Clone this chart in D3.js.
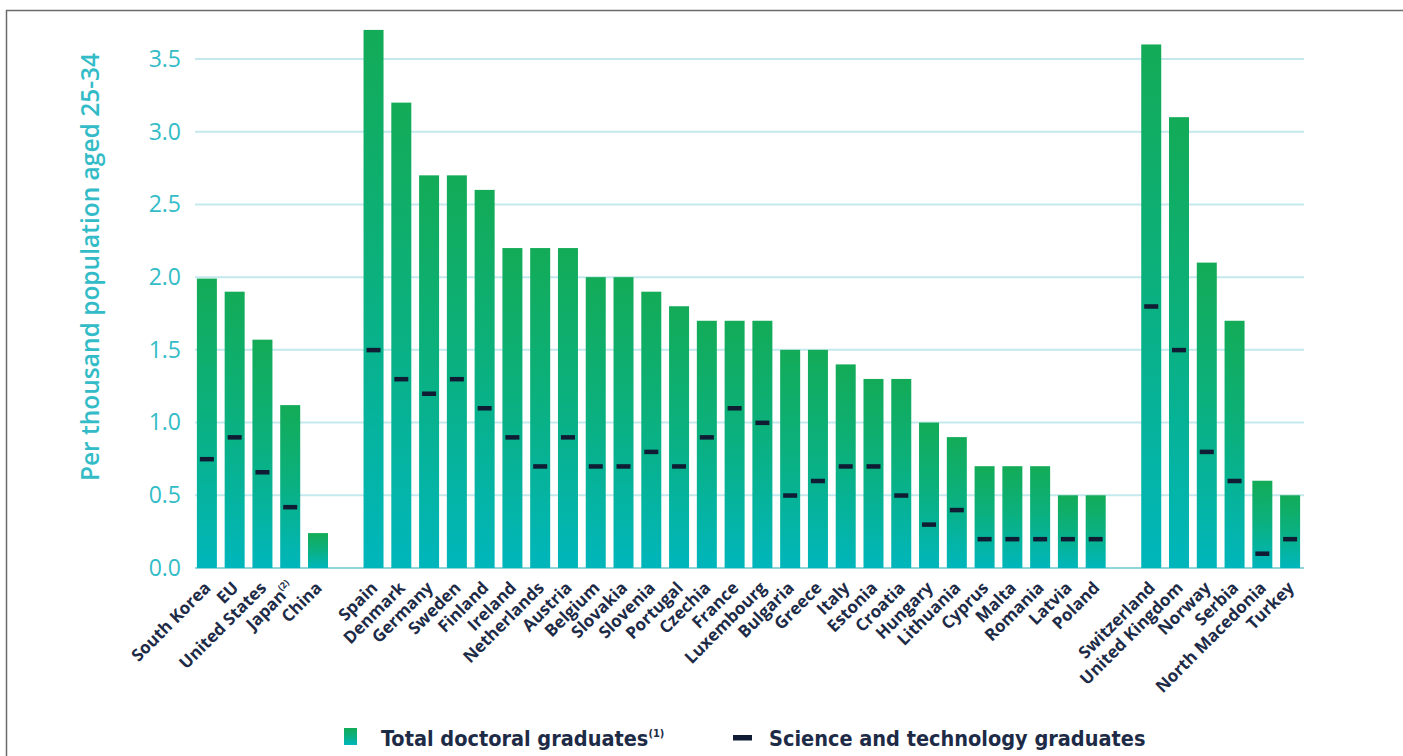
<!DOCTYPE html>
<html><head><meta charset="utf-8">
<script src="https://cdn.jsdelivr.net/npm/d3@7"></script>
<style>
html,body{margin:0;padding:0;background:#fff;}
svg{display:block;}
</style></head>
<body><svg id="chart" width="1403" height="756"></svg>
<script>
// ---- data ----
const categories = ["South Korea","EU","United States","Japan","China","_gap1",
 "Spain","Denmark","Germany","Sweden","Finland","Ireland","Netherlands","Austria","Belgium","Slovakia","Slovenia","Portugal","Czechia","France","Luxembourg","Bulgaria","Greece","Italy","Estonia","Croatia","Hungary","Lithuania","Cyprus","Malta","Romania","Latvia","Poland","_gap2",
 "Switzerland","United Kingdom","Norway","Serbia","North Macedonia","Turkey"];
const totalDoctoral = [1.99,1.9,1.57,1.12,0.24,null,
 3.7,3.2,2.7,2.7,2.6,2.2,2.2,2.2,2.0,2.0,1.9,1.8,1.7,1.7,1.7,1.5,1.5,1.4,1.3,1.3,1.0,0.9,0.7,0.7,0.7,0.5,0.5,null,
 3.6,3.1,2.1,1.7,0.6,0.5];
const sciTech = [0.75,0.9,0.66,0.42,null,null,
 1.5,1.3,1.2,1.3,1.1,0.9,0.7,0.9,0.7,0.7,0.8,0.7,0.9,1.1,1.0,0.5,0.6,0.7,0.7,0.5,0.3,0.4,0.2,0.2,0.2,0.2,0.2,null,
 1.8,1.5,0.8,0.6,0.1,0.2];
const yTicks = [0,0.5,1.0,1.5,2.0,2.5,3.0,3.5];
const superscripts = {"Japan":"(2)"};
const yTitle = "Per thousand population aged 25-34";
const legendLabels = ["Total doctoral graduates","Science and technology graduates"];

// ---- layout ----
const svg = d3.select("#chart");
const x = d3.scaleBand().domain(categories).range([193,1304]).paddingInner(0.28).paddingOuter(0.14);
const y = d3.scaleLinear().domain([0,3.5]).range([568,59]);

// frame
svg.append("path").attr("d","M6.5,760 V10.5 H1410").attr("fill","none").attr("stroke","#6b6b6b").attr("stroke-width",1.5);

const defs = svg.append("defs");
const grad = defs.append("linearGradient").attr("id","barGrad").attr("x1",0).attr("y1",0).attr("x2",0).attr("y2",1);
grad.append("stop").attr("offset","0%").attr("stop-color","#13ab57");
grad.append("stop").attr("offset","45%").attr("stop-color","#0bb07c");
grad.append("stop").attr("offset","100%").attr("stop-color","#00b6bc");

// grid
const teal = "#33bcc7";
svg.append("g").selectAll("line").data(yTicks).join("line")
  .attr("x1",195).attr("x2",1304)
  .attr("y1",d=>y(d)).attr("y2",d=>y(d))
  .attr("stroke",d=>d===0?"#8fd6dc":"#c4e9ed").attr("stroke-width",2);

// y tick labels via axis
const yAxis = svg.append("g").attr("transform","translate(195,0)")
  .call(d3.axisLeft(y).tickValues(yTicks).tickFormat(d3.format(".1f")).tickSize(0).tickPadding(14));
yAxis.select(".domain").remove();
yAxis.selectAll("text").attr("fill",teal).attr("font-family","'Open Sans', sans-serif").attr("font-size",23);

svg.append("text").attr("transform","translate(99,267) rotate(-90)")
  .attr("text-anchor","middle").attr("fill",teal)
  .attr("font-family","'Open Sans', sans-serif").attr("font-weight",600).attr("font-size",24.5)
  .text(yTitle);

const rows = categories.map((c,i)=>({c,t:totalDoctoral[i],s:sciTech[i]}));

// bars
svg.append("g").selectAll("rect").data(rows.filter(d=>d.t!=null)).join("rect")
  .attr("x",d=>x(d.c)).attr("width",x.bandwidth())
  .attr("y",d=>y(d.t)).attr("height",d=>y(0)-y(d.t))
  .attr("fill","url(#barGrad)");

// S&T markers
svg.append("g").selectAll("rect").data(rows.filter(d=>d.s!=null)).join("rect")
  .attr("x",d=>x(d.c)+3).attr("width",x.bandwidth()-6)
  .attr("y",d=>y(d.s)-2).attr("height",4.5)
  .attr("fill","#0f1c33");

// x labels
const xl = svg.append("g").selectAll("text").data(rows.filter(d=>d.t!=null)).join("text")
  .attr("transform",d=>`translate(${x(d.c)+x.bandwidth()/2+5},${589}) rotate(-45)`)
  .attr("text-anchor","end")
  .attr("fill","#1d2b47")
  .attr("font-family","'Open Sans', sans-serif").attr("font-weight",700).attr("font-size",17);
xl.each(function(d){
  const t = d3.select(this);
  if (superscripts[d.c]) {
    t.append("tspan").text(d.c);
    t.append("tspan").attr("font-size",9).attr("dy",-8).text(superscripts[d.c]);
  } else t.text(d.c);
});

// legend
const lg = svg.append("g");
lg.append("rect").attr("x",344).attr("y",728).attr("width",13).attr("height",17).attr("fill","url(#barGrad)");
const lt = lg.append("text").attr("x",381).attr("y",746)
  .attr("fill","#1d2b47").attr("font-family","'DejaVu Sans Condensed','DejaVu Sans',sans-serif")
  .attr("font-weight",700).attr("font-size",21.5);
lt.append("tspan").text(legendLabels[0]);
lt.append("tspan").attr("font-size",11).attr("dy",-9).text("(1)");
lg.append("rect").attr("x",733).attr("y",735).attr("width",19).attr("height",5.5).attr("fill","#0f1c33");
lg.append("text").attr("x",769).attr("y",746)
  .attr("fill","#1d2b47").attr("font-family","'DejaVu Sans Condensed','DejaVu Sans',sans-serif")
  .attr("font-weight",700).attr("font-size",21.5).text(legendLabels[1]);
</script></body></html>
